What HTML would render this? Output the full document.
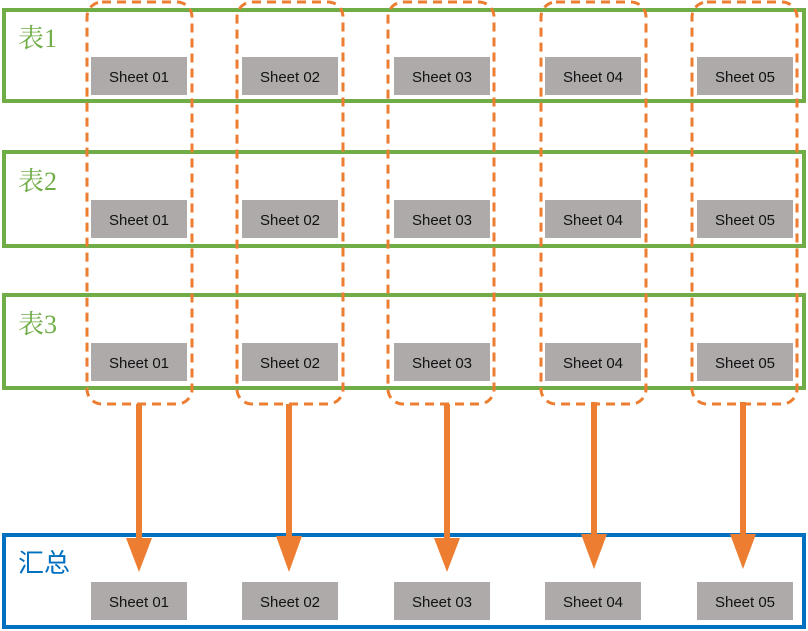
<!DOCTYPE html>
<html><head><meta charset="utf-8"><style>
html,body{margin:0;padding:0;background:#fff;}
svg{display:block}
.s{font-family:"Liberation Sans","DejaVu Sans",sans-serif;font-size:15px;fill:#111;}
.t{font-family:"Liberation Serif","Noto Serif CJK SC",serif;font-size:26px;}
</style></head><body>
<svg width="808" height="631" viewBox="0 0 808 631" xmlns="http://www.w3.org/2000/svg">
<g fill="none" stroke="#70ad47" stroke-width="4">
<rect x="4" y="10" width="800" height="91"/>
<rect x="4" y="152" width="800" height="94"/>
<rect x="4" y="295" width="800" height="93"/>
</g>
<rect x="4" y="535" width="800" height="92" fill="none" stroke="#0070c0" stroke-width="4"/>
<g class="t" fill="#70ad47">
<text x="18" y="47">表1</text>
<text x="18" y="190">表2</text>
<text x="18" y="333">表3</text>
</g>
<text class="t" x="18" y="572" fill="#0070c0" font-family="Noto Sans CJK SC, sans-serif" style="font-family:'Noto Sans CJK SC',sans-serif;font-size:26px">汇总</text>
<g fill="#aeaaaa">
<rect x="91" y="57" width="96" height="38"/><rect x="242" y="57" width="96" height="38"/><rect x="394" y="57" width="96" height="38"/><rect x="545" y="57" width="96" height="38"/><rect x="697" y="57" width="96" height="38"/>
<rect x="91" y="200" width="96" height="38"/><rect x="242" y="200" width="96" height="38"/><rect x="394" y="200" width="96" height="38"/><rect x="545" y="200" width="96" height="38"/><rect x="697" y="200" width="96" height="38"/>
<rect x="91" y="343" width="96" height="38"/><rect x="242" y="343" width="96" height="38"/><rect x="394" y="343" width="96" height="38"/><rect x="545" y="343" width="96" height="38"/><rect x="697" y="343" width="96" height="38"/>
<rect x="91" y="582" width="96" height="38"/><rect x="242" y="582" width="96" height="38"/><rect x="394" y="582" width="96" height="38"/><rect x="545" y="582" width="96" height="38"/><rect x="697" y="582" width="96" height="38"/>
</g>
<g class="s" text-anchor="middle">
<text x="139" y="82">Sheet 01</text><text x="290" y="82">Sheet 02</text><text x="442" y="82">Sheet 03</text><text x="593" y="82">Sheet 04</text><text x="745" y="82">Sheet 05</text>
<text x="139" y="225">Sheet 01</text><text x="290" y="225">Sheet 02</text><text x="442" y="225">Sheet 03</text><text x="593" y="225">Sheet 04</text><text x="745" y="225">Sheet 05</text>
<text x="139" y="368">Sheet 01</text><text x="290" y="368">Sheet 02</text><text x="442" y="368">Sheet 03</text><text x="593" y="368">Sheet 04</text><text x="745" y="368">Sheet 05</text>
<text x="139" y="607">Sheet 01</text><text x="290" y="607">Sheet 02</text><text x="442" y="607">Sheet 03</text><text x="593" y="607">Sheet 04</text><text x="745" y="607">Sheet 05</text>
</g>
<g fill="none" stroke="#ed7d31" stroke-width="3" stroke-dasharray="9,6">
<rect x="87" y="2" width="105" height="402" rx="15"/>
<rect x="237" y="2" width="106" height="402" rx="15"/>
<rect x="388" y="2" width="106" height="402" rx="15"/>
<rect x="541" y="2" width="105" height="402" rx="15"/>
<rect x="692" y="2" width="105" height="402" rx="15"/>
</g>
<g stroke="#ed7d31" stroke-width="6">
<line x1="139" y1="404" x2="139" y2="540"/>
<line x1="289" y1="404" x2="289" y2="538"/>
<line x1="447" y1="404" x2="447" y2="540"/>
<line x1="594" y1="402" x2="594" y2="536"/>
<line x1="743" y1="402" x2="743" y2="536"/>
</g>
<g fill="#ed7d31">
<polygon points="126,538 152,538 139,572"/>
<polygon points="276,536 302,536 289,572"/>
<polygon points="434,538 460,538 447,572"/>
<polygon points="581,534 607,534 594,569"/>
<polygon points="730,534 756,534 743,569"/>
</g>
</svg>
</body></html>
